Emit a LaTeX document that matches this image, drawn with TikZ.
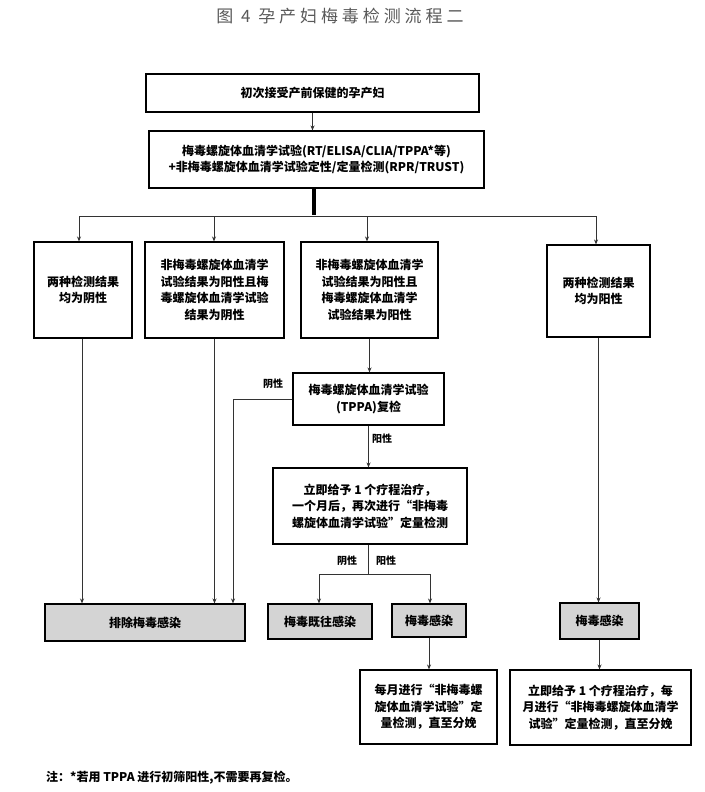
\documentclass[tikz,border=0pt]{standalone}
\usepackage{fontspec}
\setmainfont{Noto Sans CJK SC}
\newfontfamily\titlefont[LetterSpace=23]{Noto Sans CJK SC}
\usetikzlibrary{arrows.meta,calc}
\begin{document}
\begin{tikzpicture}[x=1pt,y=-1pt,
  box/.style={draw=black, line width=1.1pt, align=center, inner sep=0pt, font=\bfseries\fontsize{12}{16.5}\selectfont},
  gbox/.style={box, fill=black!17},
  arr/.style={-{Stealth[length=5pt,width=4pt]}, draw=black!80, line width=0.9pt},
  ln/.style={draw=black!80, line width=0.9pt},
  lab/.style={font=\bfseries\fontsize{10}{12}\selectfont, inner sep=0pt}]
\useasboundingbox[fill=white] (0,0) rectangle (704,792);

\node[font=\titlefont\fontsize{17}{20}\selectfont, text=black!65] (title) at (340,16) {图 4 孕产妇梅毒检测流程二};

\node[box, minimum width=333pt, minimum height=38pt] (b1) at (312.5,93) {初次接受产前保健的孕产妇};
\node[box, minimum width=335pt, minimum height=57pt] (b2) at (316.5,159.5) {梅毒螺旋体血清学试验(RT/ELISA/CLIA/TPPA*等)\\+非梅毒螺旋体血清学试验定性/定量检测(RPR/TRUST)};

\node[box, minimum width=98pt, minimum height=96pt] (b3) at (83,290) {两种检测结果\\均为阴性};
\node[box, minimum width=139pt, minimum height=96pt] (b4) at (214.5,290) {非梅毒螺旋体血清学\\试验结果为阳性且梅\\毒螺旋体血清学试验\\结果为阴性};
\node[box, minimum width=137pt, minimum height=96pt] (b5) at (369.5,290) {非梅毒螺旋体血清学\\试验结果为阳性且\\梅毒螺旋体血清学\\试验结果为阳性};
\node[box, minimum width=103pt, minimum height=92pt] (b6) at (598.5,291) {两种检测结果\\均为阳性};

\node[box, minimum width=151pt, minimum height=52pt] (tppa) at (368.5,399) {梅毒螺旋体血清学试验\\(TPPA)复检};
\node[box, minimum width=194pt, minimum height=76pt] (treat) at (370,506) {立即给予 1 个疗程治疗，\\一个月后，再次进行“非梅毒\\螺旋体血清学试验”定量检测};

\node[gbox, minimum width=200pt, minimum height=37pt] (excl) at (145,622.5) {排除梅毒感染};
\node[gbox, minimum width=104pt, minimum height=35pt] (past) at (320,621.5) {梅毒既往感染};
\node[gbox, minimum width=74pt, minimum height=33pt] (inf1) at (429,620.5) {梅毒感染};
\node[gbox, minimum width=79pt, minimum height=36pt] (inf2) at (599.5,621) {梅毒感染};

\node[box, minimum width=137pt, minimum height=74pt] (month) at (428.5,707) {每月进行“非梅毒螺\\旋体血清学试验”定\\量检测，直至分娩};
\node[box, minimum width=181pt, minimum height=75pt] (treat2) at (600.5,707.5) {立即给予 1 个疗程治疗，每\\月进行“非梅毒螺旋体血清学\\试验”定量检测，直至分娩};

\node[anchor=west, font=\bfseries\fontsize{12}{14}\selectfont, inner sep=0pt] (note) at (46,778) {注：*若用 TPPA 进行初筛阳性,不需要再复检。};

% connectors
\draw[arr] (b1.south) -- (b1.south |- b2.north);
\coordinate (bus) at (314,216);
\coordinate (busL) at (79,216);
\coordinate (bus4) at (214,216);
\coordinate (bus5) at (367,216);
\coordinate (busR) at (596,216);
\draw[line width=3.5pt] (bus |- b2.south) -- ([yshift=1pt]bus);
\draw[ln] (busL) -- (busR);
\draw[arr] (busL) -- (busL |- b3.north);
\draw[arr] (bus4) -- (bus4 |- b4.north);
\draw[arr] (bus5) -- (bus5 |- b5.north);
\draw[arr] (busR) -- (busR |- b6.north);

\draw[arr] ([xshift=-1pt]b3.south) -- ([xshift=-1pt]b3.south |- excl.north);
\draw[arr] (b4.south) -- (b4.south |- excl.north);
\draw[arr] (b5.south) -- (b5.south |- tppa.north);

\coordinate (tl) at (233,399);
\draw[arr] (tppa.west) -- (tl) -- (tl |- excl.north);
\node[lab] (l1) at (273,384) {阴性};

\draw[arr] (tppa.south) -- (tppa.south |- treat.north);
\node[lab] (l2) at (382,439) {阳性};

\coordinate (br) at (368,574);
\coordinate (brL) at (319,574);
\coordinate (brR) at (430,574);
\draw[ln] (br |- treat.south) -- (br);
\draw[arr] (br) -- (brL) -- (brL |- past.north);
\draw[arr] (br) -- (brR) -- (brR |- inf1.north);
\node[lab] (l3) at (347,561) {阴性};
\node[lab] (l4) at (386,561) {阳性};

\draw[arr] (inf1.south) -- (inf1.south |- month.north);
\draw[arr] (b6.south) -- (b6.south |- inf2.north);
\draw[arr, line width=1.6pt] (inf2.south) -- (inf2.south |- treat2.north);
\end{tikzpicture}
\end{document}
